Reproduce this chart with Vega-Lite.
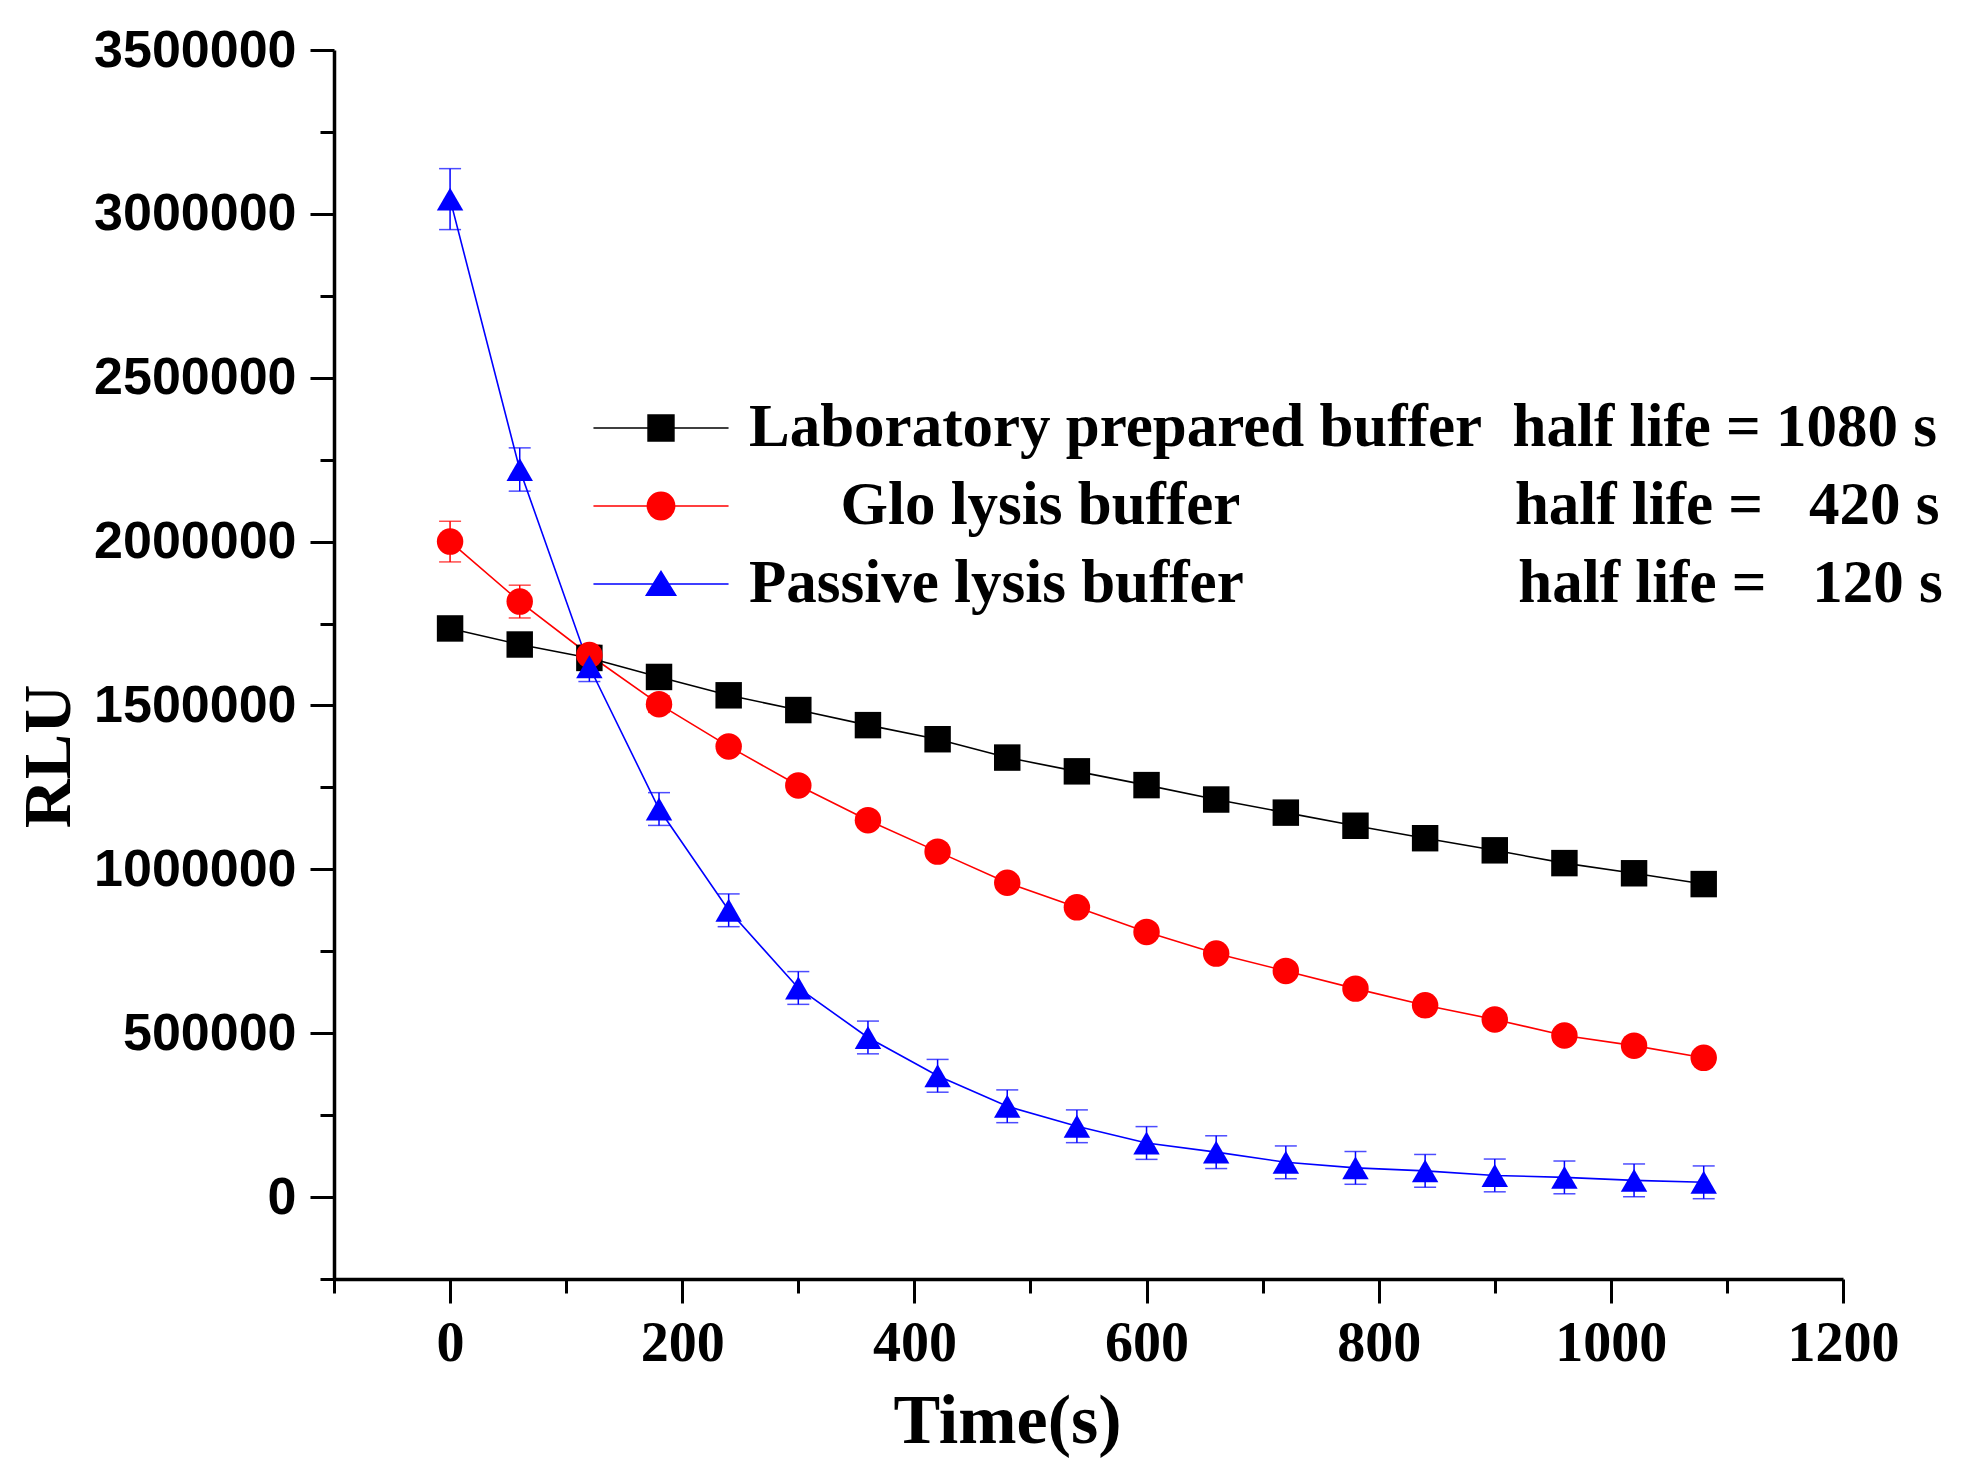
{
  "$schema": "https://vega.github.io/schema/vega-lite/v6.json",
  "width": 1509,
  "height": 1229,
  "autosize": {"type": "none"},
  "padding": {"left": 334, "top": 50, "right": 132, "bottom": 193},
  "background": "white",
  "config": {"view": {"stroke": null}, "axis": {"grid": false}},
  "data": {
    "values": [
      {"buffer": "Laboratory prepared buffer", "t": 0, "rlu": 1735000, "err": 35000},
      {"buffer": "Laboratory prepared buffer", "t": 60, "rlu": 1686000, "err": 35000},
      {"buffer": "Laboratory prepared buffer", "t": 120, "rlu": 1645000, "err": 35000},
      {"buffer": "Laboratory prepared buffer", "t": 180, "rlu": 1587000, "err": 35000},
      {"buffer": "Laboratory prepared buffer", "t": 240, "rlu": 1531000, "err": 35000},
      {"buffer": "Laboratory prepared buffer", "t": 300, "rlu": 1486000, "err": 35000},
      {"buffer": "Laboratory prepared buffer", "t": 360, "rlu": 1440000, "err": 35000},
      {"buffer": "Laboratory prepared buffer", "t": 420, "rlu": 1397000, "err": 35000},
      {"buffer": "Laboratory prepared buffer", "t": 480, "rlu": 1341000, "err": 35000},
      {"buffer": "Laboratory prepared buffer", "t": 540, "rlu": 1299000, "err": 35000},
      {"buffer": "Laboratory prepared buffer", "t": 600, "rlu": 1257000, "err": 35000},
      {"buffer": "Laboratory prepared buffer", "t": 660, "rlu": 1213000, "err": 35000},
      {"buffer": "Laboratory prepared buffer", "t": 720, "rlu": 1173000, "err": 35000},
      {"buffer": "Laboratory prepared buffer", "t": 780, "rlu": 1133000, "err": 35000},
      {"buffer": "Laboratory prepared buffer", "t": 840, "rlu": 1095000, "err": 35000},
      {"buffer": "Laboratory prepared buffer", "t": 900, "rlu": 1058000, "err": 35000},
      {"buffer": "Laboratory prepared buffer", "t": 960, "rlu": 1019000, "err": 35000},
      {"buffer": "Laboratory prepared buffer", "t": 1020, "rlu": 988000, "err": 35000},
      {"buffer": "Laboratory prepared buffer", "t": 1080, "rlu": 955000, "err": 35000},
      {"buffer": "Glo lysis buffer", "t": 0, "rlu": 2000000, "err": 62000},
      {"buffer": "Glo lysis buffer", "t": 60, "rlu": 1817000, "err": 50000},
      {"buffer": "Glo lysis buffer", "t": 120, "rlu": 1654000, "err": 30000},
      {"buffer": "Glo lysis buffer", "t": 180, "rlu": 1504000, "err": 25000},
      {"buffer": "Glo lysis buffer", "t": 240, "rlu": 1375000, "err": 20000},
      {"buffer": "Glo lysis buffer", "t": 300, "rlu": 1256000, "err": 20000},
      {"buffer": "Glo lysis buffer", "t": 360, "rlu": 1150000, "err": 20000},
      {"buffer": "Glo lysis buffer", "t": 420, "rlu": 1054000, "err": 20000},
      {"buffer": "Glo lysis buffer", "t": 480, "rlu": 959000, "err": 20000},
      {"buffer": "Glo lysis buffer", "t": 540, "rlu": 884000, "err": 20000},
      {"buffer": "Glo lysis buffer", "t": 600, "rlu": 809000, "err": 20000},
      {"buffer": "Glo lysis buffer", "t": 660, "rlu": 743000, "err": 20000},
      {"buffer": "Glo lysis buffer", "t": 720, "rlu": 690000, "err": 20000},
      {"buffer": "Glo lysis buffer", "t": 780, "rlu": 636000, "err": 20000},
      {"buffer": "Glo lysis buffer", "t": 840, "rlu": 585000, "err": 20000},
      {"buffer": "Glo lysis buffer", "t": 900, "rlu": 542000, "err": 20000},
      {"buffer": "Glo lysis buffer", "t": 960, "rlu": 493000, "err": 20000},
      {"buffer": "Glo lysis buffer", "t": 1020, "rlu": 462000, "err": 20000},
      {"buffer": "Glo lysis buffer", "t": 1080, "rlu": 425000, "err": 20000},
      {"buffer": "Passive lysis buffer", "t": 0, "rlu": 3045000, "err": 93000},
      {"buffer": "Passive lysis buffer", "t": 60, "rlu": 2220000, "err": 66000},
      {"buffer": "Passive lysis buffer", "t": 120, "rlu": 1618000, "err": 45000},
      {"buffer": "Passive lysis buffer", "t": 180, "rlu": 1184000, "err": 50000},
      {"buffer": "Passive lysis buffer", "t": 240, "rlu": 875000, "err": 50000},
      {"buffer": "Passive lysis buffer", "t": 300, "rlu": 638000, "err": 50000},
      {"buffer": "Passive lysis buffer", "t": 360, "rlu": 487000, "err": 50000},
      {"buffer": "Passive lysis buffer", "t": 420, "rlu": 370000, "err": 50000},
      {"buffer": "Passive lysis buffer", "t": 480, "rlu": 277000, "err": 50000},
      {"buffer": "Passive lysis buffer", "t": 540, "rlu": 216000, "err": 50000},
      {"buffer": "Passive lysis buffer", "t": 600, "rlu": 165000, "err": 50000},
      {"buffer": "Passive lysis buffer", "t": 660, "rlu": 137000, "err": 50000},
      {"buffer": "Passive lysis buffer", "t": 720, "rlu": 106000, "err": 50000},
      {"buffer": "Passive lysis buffer", "t": 780, "rlu": 89000, "err": 50000},
      {"buffer": "Passive lysis buffer", "t": 840, "rlu": 80000, "err": 50000},
      {"buffer": "Passive lysis buffer", "t": 900, "rlu": 66000, "err": 50000},
      {"buffer": "Passive lysis buffer", "t": 960, "rlu": 60000, "err": 50000},
      {"buffer": "Passive lysis buffer", "t": 1020, "rlu": 51000, "err": 50000},
      {"buffer": "Passive lysis buffer", "t": 1080, "rlu": 45000, "err": 50000}
    ]
  },
  "resolve": {
    "axis": {"x": "independent", "y": "independent"},
    "legend": {"color": "independent", "stroke": "independent", "shape": "independent"},
    "scale": {"shape": "independent"}
  },
  "layer": [
    {
      "mark": {"type": "errorbar", "ticks": {"size": 22}, "thickness": 1.5},
      "encoding": {
        "x": {"field": "t", "type": "quantitative", "scale": {"domain": [-100, 1200], "nice": false, "zero": false}, "axis": null},
        "y": {"field": "rlu", "type": "quantitative", "scale": {"domain": [-250000, 3500000], "nice": false, "zero": false}, "axis": null},
        "yError": {"field": "err"},
        "color": {"field": "buffer", "type": "nominal", "scale": {"domain": ["Laboratory prepared buffer", "Glo lysis buffer", "Passive lysis buffer"], "range": ["#000000", "#ff0000", "#0000ff"]}, "legend": null}
      }
    },
    {
      "mark": {"type": "line", "strokeWidth": 1.6},
      "encoding": {
        "x": {"field": "t", "type": "quantitative", "scale": {"domain": [-100, 1200], "nice": false, "zero": false},
          "axis": {"orient": "bottom", "values": [-100, 100, 300, 500, 700, 900, 1100], "labels": false, "domain": false, "ticks": true, "tickSize": 14, "tickWidth": 3, "tickColor": "#000000", "title": null, "grid": false}},
        "y": {"field": "rlu", "type": "quantitative", "scale": {"domain": [-250000, 3500000], "nice": false, "zero": false},
          "axis": {"orient": "left", "values": [-250000, 250000, 750000, 1250000, 1750000, 2250000, 2750000, 3250000], "labels": false, "domain": false, "ticks": true, "tickSize": 14, "tickWidth": 3, "tickColor": "#000000", "title": null, "grid": false}},
        "color": {"field": "buffer", "type": "nominal", "scale": {"domain": ["Laboratory prepared buffer", "Glo lysis buffer", "Passive lysis buffer"], "range": ["#000000", "#ff0000", "#0000ff"]}, "legend": null}
      }
    },
    {
      "mark": {"type": "point", "filled": true, "size": 700, "opacity": 1},
      "encoding": {
        "x": {"field": "t", "type": "quantitative", "scale": {"domain": [-100, 1200], "nice": false, "zero": false},
          "axis": {"orient": "bottom", "values": [0, 200, 400, 600, 800, 1000, 1200], "format": "d", "tickSize": 24, "tickWidth": 3, "tickColor": "#000000", "domainWidth": 3.5, "domainColor": "#000000", "labelFont": "Liberation Serif", "labelFontWeight": "bold", "labelFontSize": 56, "labelColor": "#000000", "labelPadding": 13, "labelLimit": 400, "labelFlush": false, "labelOverlap": false, "grid": false,
            "title": "Time(s)", "titleFont": "Liberation Serif", "titleFontWeight": "bold", "titleFontSize": 70, "titleColor": "#000000", "titleX": 673, "titleY": 163, "titleAlign": "center", "titleBaseline": "alphabetic"}},
        "y": {"field": "rlu", "type": "quantitative", "scale": {"domain": [-250000, 3500000], "nice": false, "zero": false},
          "axis": {"orient": "left", "values": [0, 500000, 1000000, 1500000, 2000000, 2500000, 3000000, 3500000], "format": "d", "tickSize": 24, "tickWidth": 3, "tickColor": "#000000", "domainWidth": 3.5, "domainColor": "#000000", "labelFont": "Liberation Sans", "labelFontWeight": "bold", "labelFontSize": 52, "labelColor": "#000000", "labelPadding": 14, "labelLimit": 400, "labelFlush": false, "labelOverlap": false, "grid": false,
            "title": "RLU", "titleFont": "Liberation Serif", "titleFontWeight": "bold", "titleFontSize": 68, "titleColor": "#000000", "titleAngle": -90, "titleX": -265, "titleY": 706, "titleAlign": "center", "titleBaseline": "alphabetic"}},
        "color": {"field": "buffer", "type": "nominal", "scale": {"domain": ["Laboratory prepared buffer", "Glo lysis buffer", "Passive lysis buffer"], "range": ["#000000", "#ff0000", "#0000ff"]}, "legend": null},
        "shape": {"field": "buffer", "type": "nominal", "scale": {"domain": ["Laboratory prepared buffer", "Glo lysis buffer", "Passive lysis buffer"], "range": ["square", "circle", "triangle-up"]}, "legend": null}
      }
    },
    {
      "mark": {"type": "point", "filled": true, "size": 0, "opacity": 1},
      "encoding": {
        "x": {"field": "t", "type": "quantitative", "scale": {"domain": [-100, 1200], "nice": false, "zero": false}, "axis": null},
        "y": {"field": "rlu", "type": "quantitative", "scale": {"domain": [-250000, 3500000], "nice": false, "zero": false}, "axis": null},
        "color": {"field": "buffer", "type": "nominal", "scale": {"domain": ["Laboratory prepared buffer", "Glo lysis buffer", "Passive lysis buffer"], "range": ["#000000", "#ff0000", "#0000ff"]},
          "legend": {
            "orient": "none", "legendX": 291, "legendY": 342, "title": null, "padding": 0,
            "symbolSize": 4900, "symbolStrokeWidth": 1.5, "symbolOffset": 0, "symbolOpacity": 1,
            "labelFont": "Liberation Serif", "labelFontWeight": "bold", "labelFontSize": 61, "labelColor": "#000000",
            "labelLimit": 1500, "labelOffset": 52, "rowPadding": 12,
            "labelExpr": "datum.label == 'Laboratory prepared buffer' ? 'Laboratory prepared buffer\u00a0\u00a0half life = 1080 s' : datum.label == 'Glo lysis buffer' ? '\u200b\u00a0\u00a0\u00a0\u00a0\u00a0\u00a0Glo lysis buffer\u00a0\u00a0\u00a0\u00a0\u00a0\u00a0\u00a0\u00a0\u00a0\u00a0\u00a0\u00a0\u00a0\u00a0\u00a0\u00a0\u00a0\u00a0half life =\u00a0\u00a0\u00a0420 s' : 'Passive lysis buffer\u00a0\u00a0\u00a0\u00a0\u00a0\u00a0\u00a0\u00a0\u00a0\u00a0\u00a0\u00a0\u00a0\u00a0\u00a0\u00a0\u00a0\u00a0half life =\u00a0\u00a0\u00a0120 s'"
          }
        },
        "stroke": {"field": "buffer", "type": "nominal", "scale": {"domain": ["Laboratory prepared buffer", "Glo lysis buffer", "Passive lysis buffer"], "range": ["#000000", "#ff0000", "#0000ff"]}},
        "shape": {"field": "buffer", "type": "nominal", "scale": {"domain": ["Laboratory prepared buffer", "Glo lysis buffer", "Passive lysis buffer"], "range": ["M-1.93,0L1.93,0M-0.37,-0.37L0.37,-0.37L0.37,0.37L-0.37,0.37Z", "M-1.93,0L1.93,0M-0.39,0A0.39,0.39,0,1,0,0.39,0A0.39,0.39,0,1,0,-0.39,0Z", "M-1.93,0L1.93,0M0,-0.36L-0.42,0.32L0.42,0.32Z"]}}
      }
    }
  ]
}
